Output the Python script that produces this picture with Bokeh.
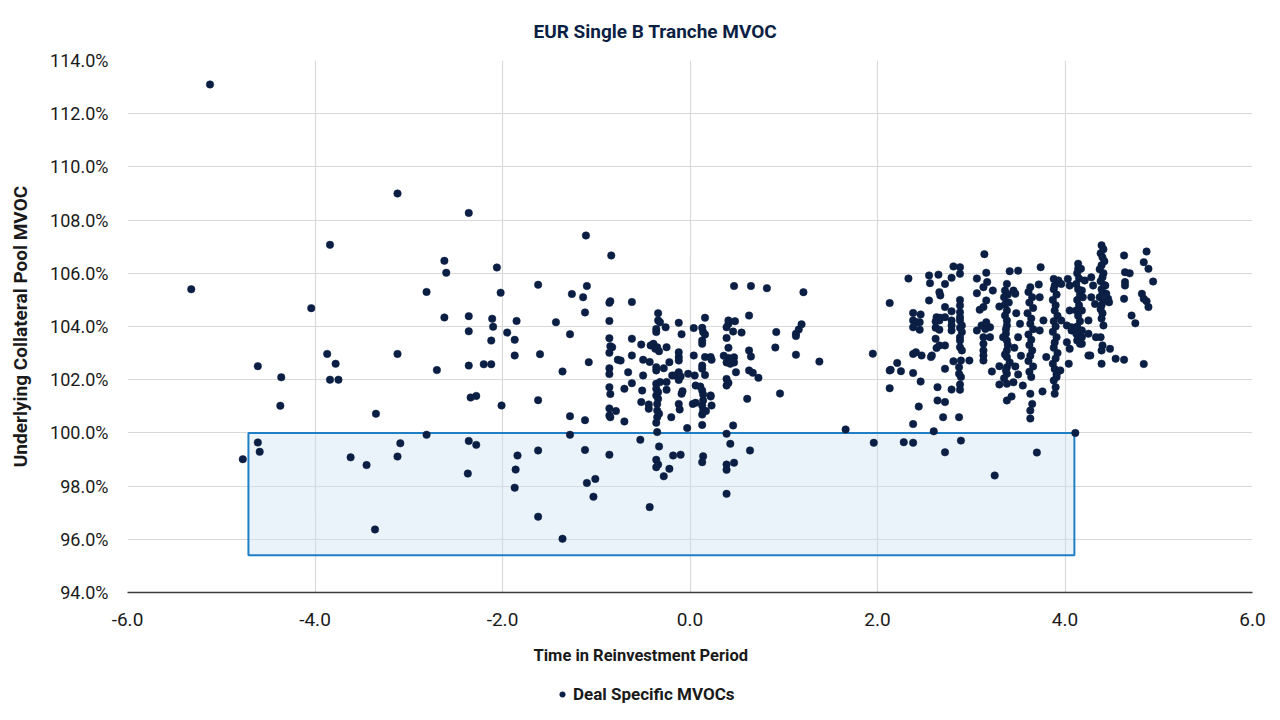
from bokeh.plotting import figure
from bokeh.layouts import column
from bokeh.models import (BoxAnnotation, FixedTicker, PrintfTickFormatter, Legend,
                          LegendItem, Range1d, ColumnDataSource, Title)
from bokeh.embed import file_html
from bokeh.resources import INLINE

# ---------------------------------------------------------------------------
# Deal level MVOC observations: time in reinvestment period (years) vs
# underlying collateral pool MVOC (%), grouped by period for readability.
# ---------------------------------------------------------------------------
early_x = [-5.12, -5.32, -3.12, -3.84, -4.04, -2.81, -3.87, -3.12, -3.78, -4.61, -4.36, -3.84,
           -3.75, -4.37, -3.35, -2.81, -4.61, -4.59, -4.77, -3.09, -3.12, -3.62, -3.45, -3.36,
           -2.36, -1.11, -0.84, -2.62, -2.60, -2.06, -1.62, -1.10, -2.02, -1.26, -1.14, -0.86,
           -0.85, -1.12, -2.62, -2.36, -2.11, -1.85, -1.43, -0.86, -2.10, -2.36, -1.95, -1.28,
           -2.12, -1.87, -0.86, -0.85, -0.83, -0.86, -1.87, -1.60, -0.77, -2.36, -2.20, -2.12,
           -2.70, -1.08, -1.36, -0.86, -0.86, -0.86, -0.85, -2.34, -2.28, -2.01, -1.62, -0.86,
           -0.79, -1.28, -1.12, -0.85, -2.36, -2.28, -1.28, -1.84, -1.62, -1.12, -0.86, -2.37,
           -1.86, -1.87, -1.10, -1.01, -1.03, -1.62, -1.36, -0.86]
early_y = [113.1, 105.4, 109.0, 107.07, 104.69, 105.3, 102.97, 102.97, 102.6, 102.51, 102.09, 102.0,
           102.0, 101.02, 100.72, 99.93, 99.64, 99.29, 99.01, 99.61, 99.11, 99.08, 98.79, 96.37,
           108.27, 107.42, 106.67, 106.47, 106.02, 106.22, 105.57, 105.52, 105.27, 105.22, 105.10, 104.89,
           104.95, 104.53, 104.34, 104.39, 104.29, 104.21, 104.16, 104.21, 103.99, 103.82, 103.77, 103.71,
           103.47, 103.50, 103.56, 103.26, 103.22, 103.01, 102.91, 102.96, 102.75, 102.53, 102.58, 102.58,
           102.36, 102.66, 102.31, 102.43, 102.21, 101.72, 101.46, 101.33, 101.39, 101.03, 101.23, 100.92,
           100.82, 100.63, 100.48, 100.59, 99.70, 99.55, 99.93, 99.15, 99.34, 99.36, 99.18, 98.47,
           98.62, 97.94, 98.12, 98.27, 97.60, 96.85, 96.02, 100.65]

mid_x = [-0.74, 0.47, 0.65, 0.82, -0.62, -0.34, -0.34, -0.32, -0.36, -0.36, -0.26, -0.12,
         -0.09, 0.04, 0.13, 0.14, 0.16, 0.16, 0.13, 0.13, 0.41, 0.41, 0.48, 0.39,
         0.46, 0.55, 0.63, 0.39, 0.41, 0.63, 0.65, 0.36, 0.41, 0.47, 0.39, 0.47,
         0.43, 0.49, 0.63, 0.67, 0.73, 0.39, 0.41, 0.39, 0.61,
         -0.62, -0.52, -0.42, -0.39, -0.37, -0.35, -0.33, -0.25, -0.62, -0.50, -0.43, -0.12,
         -0.12, -0.12, 0.04, 0.16, 0.22, 0.23, 0.13, 0.13, -0.36, -0.36, -0.28, -0.22,
         -0.66, -0.50, -0.19, -0.16, -0.12, -0.10, -0.12, -0.02, 0.05, 0.16, -0.62, -0.36,
         -0.32, -0.25, -0.36, -0.34, -0.70, -0.51, -0.25, 0.06, 0.11, 0.13, 0.14, 0.22,
         -0.09, -0.08, -0.36, -0.34,
         -0.70, -0.52, -0.44, -0.44, -0.35, -0.35, -0.35, -0.36, -0.33, -0.20, -0.12, -0.11,
         0.03, 0.06, -0.03, 0.13, 0.14, 0.13, 0.14, 0.17, 0.22, 0.23, 0.13, 0.46,
         0.39, -0.35, -0.53, 0.43, -0.33, -0.18, -0.10, 0.14, 0.13, 0.64, -0.36, -0.34,
         -0.36, -0.22, -0.28, 0.39, 0.39, 0.47, 0.39, -0.43,
         1.21, 0.92, 0.91, 1.19, 1.16, 1.13, 1.13, 1.13, 1.38, 0.96, 1.95, 1.66, 1.96]
mid_y = [102.72, 105.52, 105.52, 105.44, 104.92, 104.5, 104.23, 104.16, 103.91, 103.79, 103.97, 104.14,
         103.71, 103.94, 103.95, 103.79, 104.33, 103.70, 103.47, 103.35, 104.23, 104.10, 104.2, 103.97,
         103.81, 103.77, 104.41, 103.57, 103.2, 103.1, 102.87, 102.9, 102.82, 102.84, 102.65, 102.65,
         102.6, 102.28, 102.35, 102.26, 102.07, 102.03, 101.88, 101.78, 101.28,
         103.54, 103.32, 103.29, 103.35, 103.16, 103.22, 103.07, 103.22, 102.91, 102.75, 102.67, 103.03,
         102.85, 102.72, 102.91, 102.85, 102.85, 102.75, 102.53, 102.41, 102.47, 102.35, 102.43, 102.66,
         102.28, 102.16, 102.16, 102.16, 102.28, 102.12, 101.99, 102.22, 102.16, 102.18, 101.87, 101.85,
         101.91, 101.91, 101.66, 101.53, 101.66, 101.59, 101.62, 101.78, 101.74, 101.59, 101.44, 101.41,
         101.47, 101.57, 101.41, 101.28,
         100.43, 101.16, 101.07, 100.91, 101.09, 100.84, 100.59, 100.38, 100.72, 100.59, 101.09, 100.88,
         101.09, 101.13, 100.18, 101.03, 101.22, 100.69, 100.84, 100.82, 101.37, 101.03, 100.30, 100.28,
         99.97, 100.03, 99.74, 99.59, 99.49, 99.15, 99.18, 99.12, 98.9, 99.34, 98.99, 98.81,
         98.71, 98.65, 98.37, 98.81, 98.61, 98.88, 97.71, 97.21,
         105.29, 103.79, 103.21, 104.08, 103.89, 103.73, 103.64, 102.94, 102.68, 101.48, 102.98, 100.13, 99.63]

late_x = [2.13, 2.13, 2.13, 3.14, 2.81, 2.88, 2.88, 2.55, 2.65, 2.56, 2.72, 2.79,
          2.66, 2.67, 2.33, 3.06, 3.16, 3.17, 3.13, 3.06, 3.23, 3.41, 3.38, 2.55,
          2.72, 2.88, 2.88, 2.88, 2.88, 2.79, 2.38, 2.46,
          2.63, 2.67, 2.72, 2.62, 2.66, 2.62, 2.66, 2.62, 2.66, 2.72, 2.63,
          2.38, 2.42, 2.45, 2.38, 2.45,
          2.79, 2.79, 2.79, 2.88, 2.88, 2.90, 2.90,
          3.06, 3.11, 3.15, 3.13, 3.20, 3.20, 3.16, 3.09, 3.16, 3.13,
          3.30, 3.36, 3.38, 3.36, 3.38, 3.38, 3.37, 3.38, 3.38, 3.38,
          2.88, 2.88, 2.88, 2.90, 3.13, 3.13, 3.13, 3.13,
          2.38, 2.41, 2.47, 2.57, 2.58, 2.81, 2.89, 2.98,
          2.21, 2.14, 2.25, 2.38, 2.72, 2.87, 2.87, 2.89, 3.22, 3.30, 3.30,
          2.46, 2.64, 2.79, 2.88, 2.88, 2.64, 2.72, 2.44, 2.38, 2.70, 2.87, 2.60,
          2.28, 2.38, 2.89, 2.72, 3.25,
          3.38, 3.38, 3.38, 3.38, 4.11, 3.70, 3.63, 3.63,
          3.74, 3.50, 4.14, 4.14, 3.45, 3.47, 3.63, 3.72, 3.88, 3.93, 3.89, 3.96, 4.03, 4.05,
          3.61, 3.65, 3.62, 3.66, 3.60, 3.64, 3.63, 3.66, 3.61, 3.64, 3.62, 3.65, 3.63, 3.61,
          3.66, 3.62, 3.64, 3.63, 3.65,
          3.88, 3.91, 3.87, 3.90, 3.89, 3.92, 3.88, 3.90, 3.87, 3.91, 3.89, 3.88, 3.92, 3.90,
          3.87, 3.89, 3.91, 3.88, 3.90, 3.89,
          4.13, 4.15, 4.12, 4.14, 4.16, 4.13, 4.15, 4.12, 4.14, 4.16, 4.13, 4.15, 4.14, 4.13,
          4.04, 4.05, 4.02, 4.16, 4.25, 4.05, 4.07, 3.73, 3.77, 3.73, 3.80, 3.95, 3.91, 3.96,
          4.02, 4.07, 4.12, 4.18, 3.76, 3.55, 3.43,
          3.36, 3.39, 3.35, 3.40, 3.37, 3.34, 3.39, 3.36, 3.41, 3.37, 3.35,
          3.48, 3.52, 3.50, 3.46, 3.53, 3.47, 3.50, 3.45,
          4.39, 4.41, 4.38, 4.40, 4.42, 4.39, 4.37, 4.41, 4.40, 4.38, 4.42, 4.39, 4.40, 4.37,
          4.41, 4.39, 4.38, 4.40, 4.39, 4.41, 4.38, 4.40, 4.39, 4.39,
          4.63, 4.87, 4.84, 4.89, 4.64, 4.69, 4.64, 4.64, 4.63, 4.94, 4.82, 4.84, 4.87, 4.89,
          4.71, 4.75, 4.48, 4.54, 4.63, 4.27, 4.84,
          4.17, 4.21, 4.28, 4.30, 4.18, 4.19, 4.28, 4.32, 4.18, 4.25, 4.18, 4.25, 4.18, 4.33,
          4.46, 4.47, 4.44, 4.43]
late_y = [104.88, 102.35, 101.68, 106.72, 106.26, 106.23, 105.98, 105.92, 105.95, 105.63, 105.6, 105.83,
          105.29, 105.17, 105.8, 105.8, 106.02, 105.67, 105.48, 105.25, 105.35, 106.08, 105.6, 104.98,
          104.73, 105.0, 104.79, 104.54, 104.35, 104.57, 104.51, 104.45,
          104.35, 104.33, 104.35, 104.19, 104.23, 103.95, 103.88, 103.54, 103.29, 103.29, 103.19,
          104.23, 104.16, 104.16, 103.97, 103.88,
          104.23, 104.04, 103.85, 104.23, 103.95, 104.04, 103.79,
          103.85, 104.04, 103.91, 103.6, 103.97, 103.6, 104.16, 104.63, 104.98, 104.73,
          104.75, 104.83, 104.6, 104.41, 104.23, 104.04, 103.73, 103.47, 103.1, 102.85,
          103.6, 103.47, 103.22, 103.1, 103.35, 103.1, 102.91, 102.72,
          102.97, 103.03, 102.91, 102.85, 102.91, 102.69, 102.72, 102.72,
          102.63, 102.37, 102.32, 102.25, 102.41, 102.47, 102.22, 102.1, 102.31, 102.51, 101.82,
          101.93, 101.72, 101.63, 101.82, 101.62, 101.22, 101.16, 100.99, 100.33, 100.59, 100.59, 100.06,
          99.65, 99.63, 99.71, 99.27, 98.4,
          102.47, 102.22, 101.85, 101.22, 100.0, 99.26, 100.54, 100.84,
          106.23, 106.1, 106.36, 106.17, 105.35, 105.23, 105.48, 105.58, 105.79, 105.73, 105.54, 105.6, 105.79, 105.54,
          105.3, 105.1, 104.9, 104.7, 104.5, 104.3, 104.1, 103.9, 103.7, 103.5, 103.3, 103.1, 102.9, 102.7,
          102.5, 102.3, 102.1, 101.47, 101.09,
          105.4, 105.2, 105.0, 104.8, 104.6, 104.4, 104.2, 104.0, 103.8, 103.6, 103.4, 103.2, 103.0, 102.8,
          102.6, 102.4, 102.2, 101.97, 101.72, 101.47,
          106.0, 105.8, 105.6, 105.4, 105.2, 105.0, 104.8, 104.6, 104.4, 104.2, 104.0, 103.8, 103.6, 103.47,
          102.6, 103.16, 103.41, 103.35, 102.91, 104.6, 103.97, 105.1, 104.23, 103.85, 102.85, 102.35, 102.1, 104.23,
          104.04, 103.85, 103.73, 103.6, 101.56, 101.78, 101.37,
          105.35, 105.2, 105.1, 104.9, 103.9, 103.6, 103.3, 102.95, 102.65, 102.35, 102.05,
          104.5, 104.1, 103.6, 103.2, 102.9, 102.5, 102.2, 101.9,
          107.05, 106.9, 106.75, 106.6, 106.45, 106.3, 106.15, 106.0, 105.85, 105.7, 105.55, 105.4, 105.25, 105.1,
          104.95, 104.8, 104.65, 104.5, 104.3, 104.04, 103.6, 103.29, 103.1, 102.6,
          106.67, 106.82, 106.42, 106.17, 106.04, 106.0, 105.67, 105.54, 105.04, 105.69, 105.23, 105.04, 104.95, 104.73,
          104.41, 104.12, 103.16, 102.79, 102.75, 102.91, 102.59,
          106.17, 105.73, 105.85, 105.54, 105.35, 105.1, 105.1, 104.85, 104.6, 104.23, 103.85, 103.73, 103.35, 103.6,
          105.04, 104.91, 105.23, 105.54]

# Highlighted region: deals below 100% MVOC within the observed time span
box_left, box_right = -4.71, 4.10
box_bottom, box_top = 95.4, 100.0

x_ticks = [-6, -4, -2, 0, 2, 4, 6]
y_ticks = [94, 96, 98, 100, 102, 104, 106, 108, 110, 112, 114]

NAVY = "#0b1f44"
TEXT = "#1a1a1a"
FONT = "Roboto"

source = ColumnDataSource(data=dict(
    t=early_x + mid_x + late_x,
    mvoc=early_y + mid_y + late_y,
))

# ---- main scatter chart -----------------------------------------------------
p = figure(width=1280, height=684,
           x_range=Range1d(x_ticks[0], x_ticks[-1]),
           y_range=Range1d(y_ticks[0], y_ticks[-1]),
           output_backend="svg", toolbar_location=None,
           min_border_left=127, min_border_right=28,
           min_border_top=60, min_border_bottom=92)
p.outline_line_color = None
p.background_fill_color = "white"
p.border_fill_color = "white"

# title, left aligned with an offset so that it sits over the page centre
p.title.text = "EUR Single B Tranche MVOC"
p.title.align = "left"
p.title.offset = 406
p.title.standoff = 35
p.title.text_font = FONT
p.title.text_font_size = "19px"
p.title.text_font_style = "bold"
p.title.text_color = NAVY

# grid
for g in (p.xgrid, p.ygrid):
    g.grid_line_color = "#d9d9d9"
    g.grid_line_width = 1.2
p.xgrid.ticker = FixedTicker(ticks=x_ticks)
p.ygrid.ticker = FixedTicker(ticks=y_ticks)

# shaded region
box = BoxAnnotation(left=box_left, right=box_right, bottom=box_bottom, top=box_top,
                    fill_color="#cbe2f2", fill_alpha=0.4,
                    line_color="#1f7fc4", line_alpha=1.0, line_width=2, level="underlay")
p.add_layout(box)

marker_style = dict(marker="circle", size=7.5, fill_color=NAVY, line_color=NAVY, line_width=0.5)
pts = p.scatter("t", "mvoc", source=source, **marker_style)

# axes
xa = p.xaxis[0]
xa.ticker = FixedTicker(ticks=x_ticks)
xa.formatter = PrintfTickFormatter(format="%.1f")
xa.axis_line_color = "#3a3a3a"
xa.axis_line_width = 1.5
xa.major_label_standoff = 20
xa.major_label_text_font_size = "19px"

ya = p.yaxis[0]
ya.ticker = FixedTicker(ticks=y_ticks)
ya.formatter = PrintfTickFormatter(format="%.1f%%")
ya.axis_line_color = None
ya.major_label_standoff = 19
ya.major_label_text_font_size = "18px"
ya.axis_label = "Underlying Collateral Pool MVOC"
ya.axis_label_standoff = 15
ya.axis_label_text_font = FONT
ya.axis_label_text_font_size = "19px"
ya.axis_label_text_font_style = "bold"
ya.axis_label_text_color = TEXT

for ax in (xa, ya):
    ax.major_tick_out = 0
    ax.major_tick_in = 0
    ax.minor_tick_out = 0
    ax.minor_tick_in = 0
    ax.major_label_text_font = FONT
    ax.major_label_text_color = TEXT

# x axis title, centred on the page
xlabel = Title(text="Time in Reinvestment Period", align="left", offset=406, standoff=31,
               text_font=FONT, text_font_size="16.5px", text_font_style="bold", text_color=TEXT)
p.add_layout(xlabel, "below")

# ---- legend strip under the chart ------------------------------------------
# The column aligns this strip's frame with the chart frame (x = 127 .. 1252).
leg = figure(width=1280, height=36, x_range=Range1d(0, 1), y_range=Range1d(0, 1),
             output_backend="svg", toolbar_location=None,
             x_axis_location=None, y_axis_location=None, min_border=0)
leg.outline_line_color = None
leg.grid.visible = False
leg.border_fill_color = "white"
# same series, out of this strip's view range: only its legend swatch is shown
key = leg.scatter("t", "mvoc", source=source, **marker_style)

legend = Legend(items=[LegendItem(label="Deal Specific MVOCs", renderers=[key])],
                location=(428, 16), orientation="horizontal",
                glyph_width=14, glyph_height=20, label_standoff=4,
                padding=0, margin=0, border_line_color=None, background_fill_alpha=0,
                label_text_font=FONT, label_text_font_size="17px",
                label_text_font_style="bold", label_text_color=TEXT)
leg.add_layout(legend)

page = column(p, leg, spacing=0)
open("out.html", "w").write(file_html(page, INLINE))
